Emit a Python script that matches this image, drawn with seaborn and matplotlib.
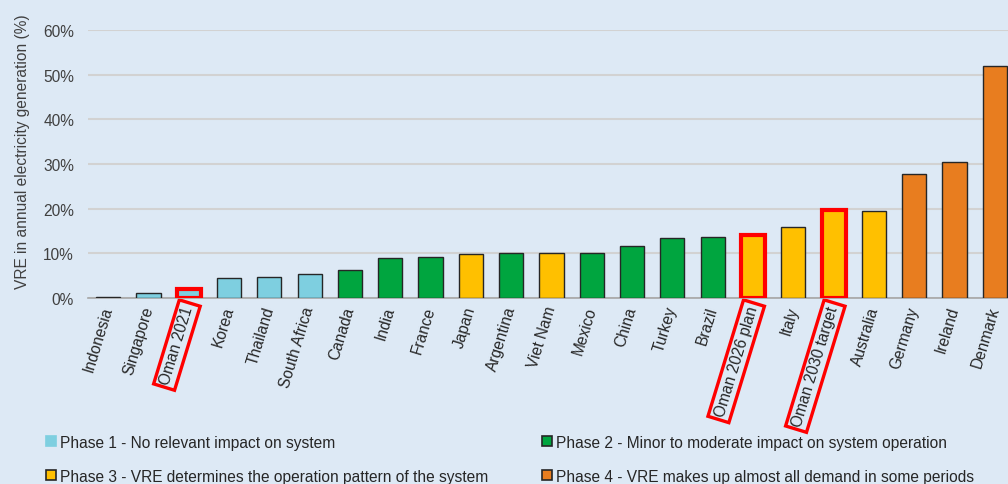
import numpy as np
import pandas as pd
import matplotlib
matplotlib.use("Agg")
import matplotlib.pyplot as plt
from matplotlib.lines import Line2D
import seaborn as sns

countries = ["Indonesia", "Singapore", "Oman 2021", "Korea", "Thailand", "South Africa",
             "Canada", "India", "France", "Japan", "Argentina", "Viet Nam", "Mexico",
             "China", "Turkey", "Brazil", "Oman 2026 plan", "Italy", "Oman 2030 target",
             "Australia", "Germany", "Ireland", "Denmark"]
vre_share = [0.3, 1.1, 2.0, 4.4, 4.8, 5.4, 6.3, 8.9, 9.2, 9.8, 10.0, 10.0, 10.0,
             11.7, 13.4, 13.6, 14.0, 16.0, 19.8, 19.5, 27.7, 30.4, 52.0]
phases = [1, 1, 1, 1, 1, 1, 2, 2, 2, 3, 2, 3, 2, 2, 2, 2, 3, 3, 3, 3, 4, 4, 4]

phase_labels = {
    1: "Phase 1 - No relevant impact on system",
    2: "Phase 2 - Minor to moderate impact on system operation",
    3: "Phase 3 - VRE determines the operation pattern of the system",
    4: "Phase 4 - VRE makes up almost all demand in some periods",
}
phase_colors = {1: "#7ecfe0", 2: "#00a53f", 3: "#ffc000", 4: "#e87d1f"}
oman = ["Oman 2021", "Oman 2026 plan", "Oman 2030 target"]

bg = "#dde9f5"
df = pd.DataFrame({"country": countries, "share": np.array(vre_share) / 100, "phase": phases})

plt.rcParams["font.family"] = ["Liberation Sans", "DejaVu Sans"]
fs = 11.2
fig = plt.figure(figsize=(10.08, 4.85), dpi=100, facecolor=bg)
ax = fig.add_axes([0.0873, 0.3835, 0.9196, 0.5525])
ax.set_facecolor(bg)

sns.barplot(data=df, x="country", y="share", hue="phase", palette=phase_colors,
            dodge=False, legend=False, width=0.6, saturation=1,
            edgecolor="#262626", linewidth=1.0, zorder=3, ax=ax)

# red outline on Oman bars
for bar in ax.patches:
    xc = bar.get_x() + bar.get_width() / 2
    idx = int(round(xc))
    if 0 <= idx < len(countries) and countries[idx] in oman and bar.get_height() > 0:
        bar.set_edgecolor("#ff0000")
        bar.set_linewidth(3.0)

ax.set_xlim(-0.5, len(countries) - 0.5)
ax.set_ylim(0, 0.6)
ax.set_yticks(np.arange(0, 0.61, 0.1))
ax.set_yticklabels([f"{int(v)}%" for v in np.arange(0, 61, 10)], fontsize=fs, color="#404040")
ax.yaxis.grid(True, color="#d2d2d2", linewidth=1.5, zorder=0)
ax.set_axisbelow(True)
ax.tick_params(axis="both", length=0)
ax.tick_params(axis="y", pad=10)
for s in ["top", "right", "left"]:
    ax.spines[s].set_visible(False)
ax.spines["bottom"].set_color("#a6a6a6")
ax.spines["bottom"].set_linewidth(1.2)

ax.set_xlabel("")
ax.set_ylabel("VRE in annual electricity generation (%)", fontsize=fs, color="#404040")
ax.yaxis.set_label_coords(-0.063, 0.55)
ax.set_xticks(range(len(countries)))
ax.set_xticklabels(countries, rotation=73, ha="right", va="center", rotation_mode="anchor",
                   fontsize=fs, color="#262626")
for lbl in ax.get_xticklabels():
    if lbl.get_text() in oman:
        lbl.set_bbox(dict(facecolor="none", edgecolor="#ff0000", linewidth=2.4, pad=2.5))
ax.tick_params(axis="x", pad=6)

handles = [Line2D([], [], marker="s", linestyle="none", markersize=7,
                  markerfacecolor=phase_colors[p],
                  markeredgecolor=phase_colors[p] if p == 1 else "#262626",
                  markeredgewidth=1.2) for p in [1, 3, 2, 4]]
labels = [phase_labels[p] for p in [1, 3, 2, 4]]
fig.legend(handles, labels, ncol=2, loc="lower left", bbox_to_anchor=(0.032, -0.028),
           frameon=False, fontsize=fs, handlelength=0.6, handletextpad=0.3,
           labelspacing=1.2, columnspacing=3.45, labelcolor="#262626")

fig.savefig("out.png", dpi=100, facecolor=bg)
